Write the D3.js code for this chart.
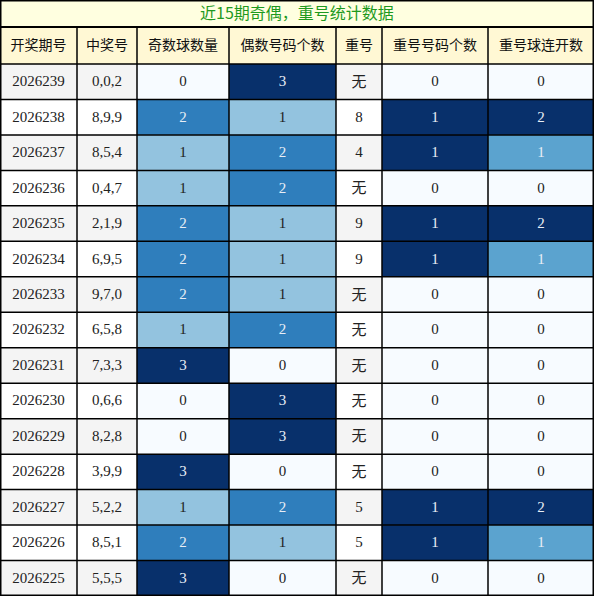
<!DOCTYPE html>
<html><head><meta charset="utf-8">
<script src="https://cdn.jsdelivr.net/npm/d3@7"></script>
<style>body{margin:0;background:#fff}</style>
</head><body>
<svg id="chart" width="594" height="596"></svg>
<script>
const title = "近15期奇偶，重号统计数据";
const headers = ["开奖期号","中奖号","奇数球数量","偶数号码个数","重号","重号号码个数","重号球连开数"];
const periods = ["2026239","2026238","2026237","2026236","2026235","2026234","2026233","2026232","2026231","2026230","2026229","2026228","2026227","2026226","2026225"];
const numbers = ["0,0,2","8,9,9","8,5,4","0,4,7","2,1,9","6,9,5","9,7,0","6,5,8","7,3,3","0,6,6","8,2,8","3,9,9","5,2,2","8,5,1","5,5,5"];
const oddCount = [0,2,1,1,2,2,2,1,3,0,0,3,1,2,3];
const evenCount = [3,1,2,2,1,1,1,2,0,3,3,0,2,1,0];
const repeatNum = ["无","8","4","无","9","9","无","无","无","无","无","无","5","5","无"];
const repeatCount = [0,1,1,0,1,1,0,0,0,0,0,0,1,1,0];
const repeatRun = [0,2,1,0,2,1,0,0,0,0,0,0,2,1,0];

const svg = d3.select("#chart");
const colEdges = [0,77,137,229,336,382,488,594];
const x = i => colEdges[i], w = i => colEdges[i+1]-colEdges[i];
const titleH = 27, headH = 37;
const y = d3.scaleBand().domain(d3.range(periods.length)).range([titleH+headH, 596]);
const font = "'Liberation Serif','Noto Sans CJK SC',serif";
const cjk = "'Noto Sans CJK SC',sans-serif";

svg.append("rect").attr("x",0).attr("y",0).attr("width",594).attr("height",titleH).attr("fill","#ffffe0");
svg.append("text").attr("x",297).attr("y",titleH/2+1).attr("text-anchor","middle").attr("dominant-baseline","middle")
  .attr("font-family",cjk).attr("font-size",16).attr("fill","#1e9a1e").text(title);

headers.forEach((h,i)=>{
  svg.append("rect").attr("x",x(i)).attr("y",titleH).attr("width",w(i)).attr("height",headH).attr("fill","#fff8d4");
  svg.append("text").attr("x",x(i)+w(i)/2).attr("y",titleH+headH/2+1).attr("text-anchor","middle").attr("dominant-baseline","middle")
    .attr("font-family",cjk).attr("font-size",14).attr("fill","#111").text(h);
});

const cols = [
  {v:periods,plain:true},{v:numbers,plain:true},{v:oddCount},{v:evenCount},
  {v:repeatNum,plain:true},{v:repeatCount},{v:repeatRun}
];
cols.forEach((c,i)=>{
  let scale=null;
  if(!c.plain){ const m=d3.max(c.v); scale=d3.scaleLinear().domain([-m/9,m]).range([0,1]); }
  const g = svg.append("g");
  const cell = g.selectAll("g").data(c.v).join("g");
  cell.append("rect").attr("x",x(i)).attr("y",(d,r)=>y(r)).attr("width",w(i)).attr("height",y.bandwidth())
    .attr("fill",(d,r)=> c.plain ? (r%2===0?"#f4f4f4":"#ffffff") : (d===0?"#f7fbff":d3.interpolateBlues(scale(d))));
  cell.append("text").attr("x",x(i)+w(i)/2).attr("y",(d,r)=>y(r)+y.bandwidth()/2+1)
    .attr("text-anchor","middle").attr("dominant-baseline","middle")
    .attr("font-family",d=>d==="无"?cjk:font).attr("font-size",15)
    .attr("fill",d=> (!c.plain && d!==0 && scale(d)>0.5) ? "#e8eef6" : "#222").text(d=>d);
});

// grid lines
const lines = svg.append("g").attr("stroke","#000");
colEdges.forEach(cx=>lines.append("line").attr("x1",cx).attr("x2",cx).attr("y1",titleH).attr("y2",596).attr("stroke-width",1.5));
lines.append("line").attr("x1",0).attr("x2",594).attr("y1",titleH).attr("y2",titleH).attr("stroke-width",2);
lines.append("line").attr("x1",0).attr("x2",594).attr("y1",titleH+headH).attr("y2",titleH+headH).attr("stroke-width",1.5);
d3.range(periods.length).forEach(r=>lines.append("line").attr("x1",0).attr("x2",594).attr("y1",y(r)+y.bandwidth()).attr("y2",y(r)+y.bandwidth()).attr("stroke-width",1.5));
svg.append("rect").attr("x",0.75).attr("y",0.75).attr("width",592.5).attr("height",594.5).attr("fill","none").attr("stroke","#000").attr("stroke-width",1.5);
</script>
</body></html>
